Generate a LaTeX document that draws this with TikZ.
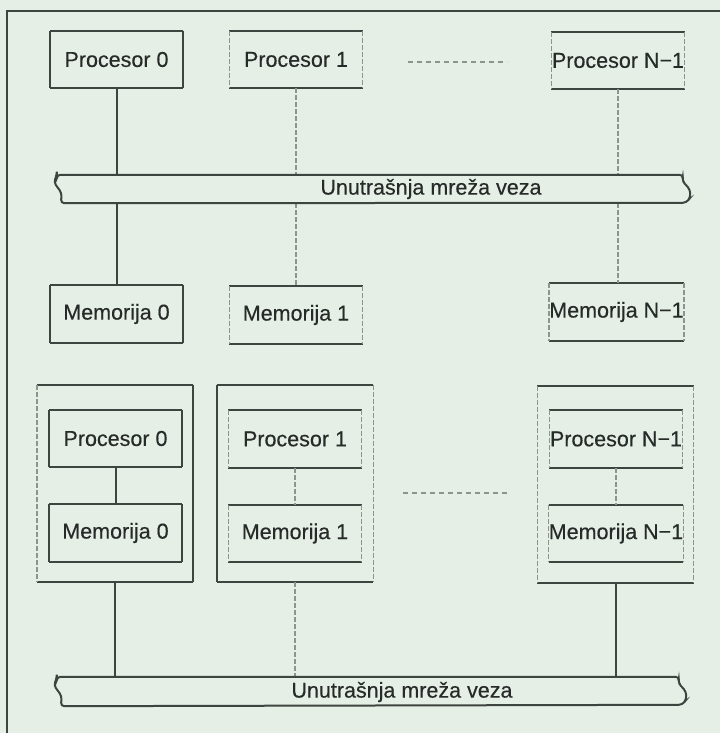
\documentclass[tikz,border=0pt]{standalone}
\usepackage{fontspec}
\setmainfont{Liberation Sans}
\newfontfamily\labelfont[FakeBold=0.35]{Liberation Sans}
\definecolor{paper}{RGB}{230,239,229}
\definecolor{ink}{RGB}{62,68,64}
\definecolor{faint}{RGB}{140,148,140}
\definecolor{txt}{RGB}{38,42,40}

% top and bottom edges solid, side edges in the given styles
\newcommand\boxedges[3]{%
  \draw[solidline] (#1.north west) -- (#1.north east);
  \draw[solidline] (#1.south west) -- (#1.south east);
  \draw[#2] (#1.north west) -- (#1.south west);
  \draw[#3] (#1.north east) -- (#1.south east);}

% interconnection bus with torn ends
\newcommand\busshape[1]{%
  \draw[solidline, rounded corners=3.5pt]
    (#1.north west) -- (#1.north east)
    -- ++(-1,6) -- ++(8,9) -- ++(0,8) -- ++(-4,5)
    -- ([xshift=4pt]#1.south west)
    -- ++(1,-10) -- ++(-8,-11) -- ++(3,-7) -- cycle;}

\begin{document}
\begin{tikzpicture}[x=1pt, y=-1pt,
  unit/.style={rectangle, minimum width=133pt, minimum height=57pt,
    inner sep=0pt, text=txt, font=\labelfont\fontsize{21.5}{26}\selectfont},
  outer/.style={rectangle, minimum width=156pt, minimum height=197pt, inner sep=0pt},
  busarea/.style={rectangle, inner sep=0pt},
  buslabel/.style={text=txt, inner sep=0pt, font=\labelfont\fontsize{21.5}{26}\selectfont},
  solidline/.style={draw=ink, line width=2pt},
  faintline/.style={draw=faint, line width=1.4pt, dash pattern=on 5pt off 2pt},
  gapline/.style={draw=faint, line width=1.5pt, dash pattern=on 5pt off 4pt}]

\useasboundingbox (0,0) rectangle (720,733);
\fill[paper] (0,0) rectangle (720,733);

% page frame
\draw[solidline] (7,733) -- (7,11) -- (720,11);

% ---- shared memory organisation ----
\node[unit] (p0) at (116.5,59.5) {Procesor 0};
\node[unit] (p1) at (296,59.5) {Procesor 1};
\node[unit] (pN) at (618,60.5) {Procesor N−1};

\node[busarea, minimum width=626pt, minimum height=28pt] (bus1) at (370,189) {};
\node[buslabel] (bus1text) at (431,189) {Unutrašnja mreža veza};

\node[unit] (m0) at (116.5,314) {Memorija 0};
\node[unit] (m1) at (296,315) {Memorija 1};
\node[unit] (mN) at (616.5,312) {Memorija N−1};

\boxedges{p0}{solidline}{solidline}
\boxedges{p1}{faintline}{faintline}
\boxedges{pN}{faintline}{faintline}
\boxedges{m0}{solidline}{solidline}
\boxedges{m1}{faintline}{faintline}
\boxedges{mN}{faintline}{faintline}

\coordinate (gap1a) at (408,62);
\coordinate (gap1b) at (507,62);
\draw[gapline] (gap1a) -- (gap1b);

\draw[solidline] (p0.south) -- (p0.south |- bus1.north);
\draw[solidline] (p0.south |- bus1.south) -- (m0.north);
\draw[faintline] (p1.south) -- (p1.south |- bus1.north);
\draw[faintline] (p1.south |- bus1.south) -- (m1.north);
\draw[faintline] (pN.south) -- (pN.south |- bus1.north);
\draw[faintline] (pN.south |- bus1.south) -- (pN.south |- mN.north);

\busshape{bus1}

% ---- distributed memory organisation ----
\node[outer] (o0) at (115,483.5) {};
\node[outer] (o1) at (295,483.5) {};
\node[outer] (oN) at (615.5,484.5) {};

\node[unit] (p0b) at (115.5,438.5) {Procesor 0};
\node[unit] (m0b) at (115.5,533) {Memorija 0};
\node[unit] (p1b) at (295,439) {Procesor 1};
\node[unit] (m1b) at (295,533.5) {Memorija 1};
\node[unit] (pNb) at (616,439) {Procesor N−1};
\node[unit] (mNb) at (616,533.5) {Memorija N−1};

\boxedges{o0}{faintline}{solidline}
\boxedges{o1}{solidline}{faintline}
\boxedges{oN}{faintline}{faintline}
\boxedges{p0b}{solidline}{solidline}
\boxedges{m0b}{solidline}{solidline}
\boxedges{p1b}{faintline}{faintline}
\boxedges{m1b}{faintline}{faintline}
\boxedges{pNb}{faintline}{faintline}
\boxedges{mNb}{faintline}{faintline}

\draw[solidline] (p0b.south) -- (m0b.north);
\draw[faintline] (p1b.south) -- (m1b.north);
\draw[faintline] (pNb.south) -- (mNb.north);

\coordinate (gap2a) at (403,493);
\coordinate (gap2b) at (507,493);
\draw[gapline] (gap2a) -- (gap2b);

\node[busarea, minimum width=622pt, minimum height=29pt] (bus2) at (368,691.5) {};
\node[buslabel] (bus2text) at (402,692) {Unutrašnja mreža veza};

\draw[solidline] (o0.south) -- (o0.south |- bus2.north);
\draw[faintline] (o1.south) -- (o1.south |- bus2.north);
\draw[solidline] (oN.south) -- (oN.south |- bus2.north);

\busshape{bus2}
\end{tikzpicture}
\end{document}
